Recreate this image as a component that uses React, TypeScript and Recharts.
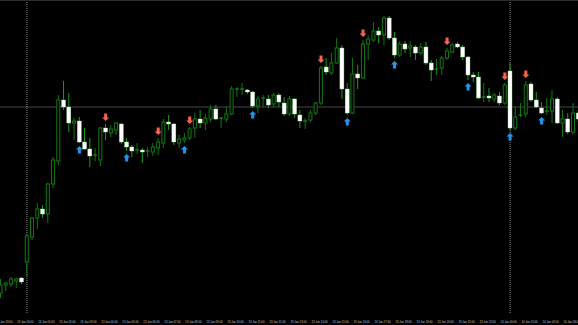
import React from 'react';
import { ComposedChart, Bar, Line, XAxis, YAxis, ReferenceLine } from 'recharts';

// 15-minute bars (price in chart points)
const opens = [
  27, 35, 36, 39, 42, 58, 83, 102, 111, 106,
  136, 159, 220, 213, 197, 199, 178, 171, 165, 160,
  192, 187, 190, 196, 178, 173, 170, 170, 169, 168,
  172, 177, 198, 196, 177, 180, 182, 192, 201, 197,
  201, 211, 202, 201, 206, 231, 231, 230, 228, 214,
  222, 221, 216, 225, 217, 206, 221, 205, 199, 200,
  207, 217, 253, 247, 257, 272, 231, 207, 246, 242,
  276, 280, 289, 285, 302, 282, 265, 276, 272, 273,
  267, 273, 257, 251, 252, 262, 268, 276, 273, 263,
  245, 243, 223, 224, 221, 224, 217, 249, 192, 205,
  206, 236, 220, 212, 209, 209, 221, 197, 201, 188,
  207,
];
const highs = [
  41, 38, 43, 42, 43, 85, 103, 117, 115, 137,
  163, 225, 239, 227, 202, 203, 192, 182, 172, 193,
  196, 195, 198, 197, 182, 175, 177, 172, 173, 177,
  182, 201, 205, 197, 185, 187, 193, 207, 210, 206,
  215, 215, 203, 213, 234, 233, 237, 231, 229, 224,
  225, 225, 227, 227, 223, 224, 222, 210, 202, 210,
  218, 254, 262, 267, 282, 275, 237, 262, 255, 280,
  285, 298, 293, 304, 304, 288, 279, 279, 279, 275,
  277, 278, 260, 261, 264, 272, 277, 278, 275, 264,
  248, 248, 237, 232, 227, 228, 237, 257, 213, 217,
  239, 238, 228, 218, 222, 230, 223, 210, 207, 217,
  210,
];
const lows = [
  22, 29, 33, 32, 36, 44, 80, 91, 102, 97,
  132, 155, 210, 188, 180, 177, 170, 153, 159, 154,
  180, 183, 185, 176, 169, 163, 166, 157, 163, 164,
  165, 172, 190, 175, 172, 177, 180, 182, 192, 190,
  198, 200, 192, 198, 205, 223, 225, 226, 212, 207,
  213, 212, 213, 213, 204, 204, 202, 192, 191, 198,
  205, 215, 245, 245, 256, 221, 205, 206, 231, 241,
  260, 278, 277, 275, 280, 262, 263, 267, 263, 260,
  265, 255, 239, 245, 245, 260, 267, 272, 260, 240,
  238, 221, 218, 218, 218, 215, 215, 190, 190, 203,
  203, 218, 212, 206, 205, 197, 196, 183, 186, 185,
  198,
];
const closes = [
  35, 37, 41, 41, 38, 84, 102, 111, 106, 136,
  160, 220, 213, 197, 199, 178, 171, 164, 165, 192,
  188, 191, 197, 178, 173, 169, 170, 168, 169, 173,
  178, 198, 196, 178, 181, 182, 191, 201, 197, 202,
  211, 201, 202, 206, 231, 231, 231, 228, 214, 221,
  222, 215, 225, 218, 206, 221, 206, 199, 199, 207,
  217, 252, 248, 257, 272, 231, 207, 246, 242, 276,
  281, 289, 285, 302, 282, 265, 276, 271, 274, 267,
  273, 257, 250, 251, 262, 269, 275, 273, 263, 245,
  243, 222, 223, 222, 225, 217, 235, 192, 203, 205,
  235, 220, 213, 207, 209, 221, 197, 201, 188, 207,
  201,
];

// bar indexes where the indicator printed an arrow
const sellSignals = [20, 30, 36, 61, 69, 85, 96, 100];
const buySignals = [15, 24, 35, 48, 66, 75, 89, 97, 103];

const daySeparators = [5, 97];
const levelLine = 213;

const tickIndexes = [
  1, 5, 9, 13, 17, 21, 25, 29, 33, 37, 41, 45, 49, 53,
  57, 61, 65, 69, 73, 77, 81, 85, 89, 93, 97, 101, 105, 109,
];
const tickLabels = [
  '12 Jan 23:00', '13 Jan 00:00', '13 Jan 01:00', '13 Jan 02:00', '13 Jan 03:00',
  '13 Jan 04:00', '13 Jan 05:00', '13 Jan 06:00', '13 Jan 07:00', '13 Jan 08:00',
  '13 Jan 09:00', '13 Jan 10:00', '13 Jan 11:00', '13 Jan 12:00', '13 Jan 13:00',
  '13 Jan 14:00', '13 Jan 15:00', '13 Jan 16:00', '13 Jan 17:00', '13 Jan 18:00',
  '13 Jan 19:00', '13 Jan 20:00', '13 Jan 21:00', '13 Jan 22:00', '14 Jan 00:00',
  '14 Jan 01:00', '14 Jan 02:00', '14 Jan 03:00',
];

const ARROW_GAP = 3;
const GREEN = '#0f7a10';
const WICK_BRIGHT = '#16a016';

const data = opens.map((open, i) => ({
  i,
  open,
  high: highs[i],
  low: lows[i],
  close: closes[i],
  range: [lows[i], highs[i]],
  sell: sellSignals.includes(i) ? highs[i] + ARROW_GAP : null,
  buy: buySignals.includes(i) ? lows[i] - ARROW_GAP : null,
}));

const Candle = (props: any) => {
  const { x, y, width, height, payload } = props;
  const { open, close, high, low } = payload;
  const cx = x + width / 2;
  const k = height / (high - low);
  const yOpen = y + (high - open) * k;
  const yClose = y + (high - close) * k;
  const top = Math.min(yOpen, yClose);
  const bodyH = Math.abs(yOpen - yClose);

  if (close > open) {
    return (
      <g>
        <line x1={cx} x2={cx} y1={y} y2={y + height} stroke={GREEN} />
        <rect x={cx - 1.5} y={top} width={3} height={bodyH} fill="#000" stroke={GREEN} strokeWidth={1} />
      </g>
    );
  }
  if (close < open) {
    return (
      <g>
        <line x1={cx} x2={cx} y1={y} y2={y + height} stroke={WICK_BRIGHT} />
        <rect x={cx - 2} y={top} width={4} height={Math.max(bodyH, 1.5)} fill="#fff" stroke="#9ad99a" strokeWidth={0.4} />
      </g>
    );
  }
  return (
    <g>
      <line x1={cx} x2={cx} y1={y} y2={y + height} stroke={GREEN} />
      <line x1={cx - 2} x2={cx + 2} y1={yOpen} y2={yOpen} stroke={WICK_BRIGHT} />
    </g>
  );
};

const downArrow = (p: any) => {
  const { cx, cy, value, index } = p;
  if (value == null || cy == null) return <g key={'s' + index} />;
  const d = `M${cx - 1.5},${cy - 7.5} H${cx + 1.5} V${cy - 3.5} H${cx + 3.5} L${cx},${cy} L${cx - 3.5},${cy - 3.5} H${cx - 1.5} Z`;
  return <path key={'s' + index} d={d} fill="#f4644e" />;
};

const upArrow = (p: any) => {
  const { cx, cy, value, index } = p;
  if (value == null || cy == null) return <g key={'b' + index} />;
  const d = `M${cx - 1.5},${cy + 7.5} H${cx + 1.5} V${cy + 3.5} H${cx + 3.5} L${cx},${cy} L${cx - 3.5},${cy + 3.5} H${cx - 1.5} Z`;
  return <path key={'b' + index} d={d} fill="#1e98ee" />;
};

const TimeTick = (props: any) => {
  const { x, payload } = props;
  const label = tickLabels[tickIndexes.indexOf(payload.value)];
  return (
    <text x={x - 1.5} y={322.5} textAnchor="middle" fontSize={2.8} fontFamily="'Liberation Sans', Arial, sans-serif" fill="#c8c8c8">
      {label}
    </text>
  );
};

export default function App() {
  return (
    <div style={{ position: 'absolute', left: 0, top: 0, width: 578, height: 325, background: '#000', overflow: 'hidden' }}>
      <div style={{ position: 'absolute', left: -1.875, top: 0 }}>
        <ComposedChart width={583} height={325} data={data} margin={{ top: 0, right: 0, bottom: 0, left: 0 }}>
          <XAxis dataKey="i" type="category" ticks={tickIndexes} interval={0} tickLine={false} axisLine={false} height={12} tick={<TimeTick />} />
          <YAxis hide type="number" domain={[7, 320]} allowDataOverflow />
          <ReferenceLine y={levelLine} stroke="#46464e" strokeWidth={1} zIndex={-50} />
          {daySeparators.map((d) => (
            <ReferenceLine key={d} x={d} stroke="#8c8c8c" strokeDasharray="1 1" zIndex={-50} />
          ))}
          <Bar dataKey="range" shape={<Candle />} isAnimationActive={false} />
          <Line dataKey="sell" stroke="none" dot={downArrow} activeDot={false} isAnimationActive={false} />
          <Line dataKey="buy" stroke="none" dot={upArrow} activeDot={false} isAnimationActive={false} />
        </ComposedChart>
      </div>
      <div style={{ position: 'absolute', left: 0, top: 0, width: 578, height: 1, background: '#2e2e2e' }} />
    </div>
  );
}
